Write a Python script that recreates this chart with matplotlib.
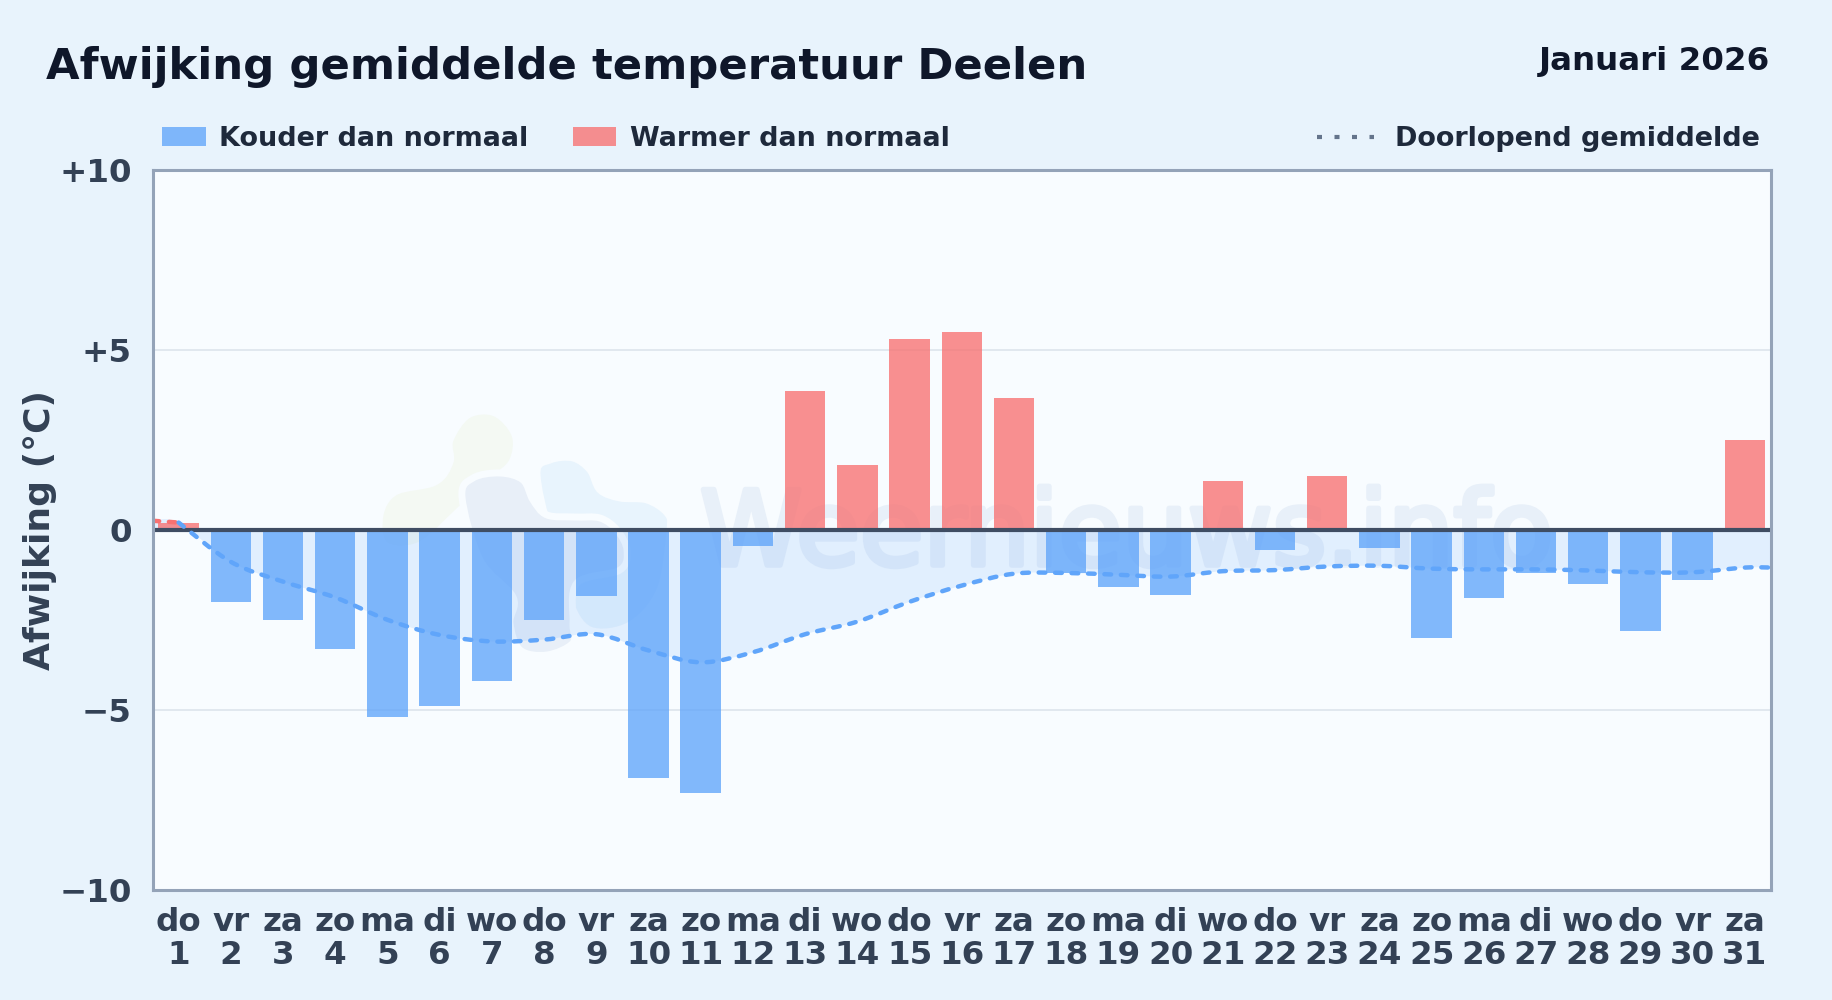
import matplotlib
matplotlib.use("Agg")
import matplotlib.pyplot as plt
import matplotlib.patheffects as pe
from matplotlib.patches import PathPatch, Rectangle
from matplotlib.path import Path
from matplotlib.lines import Line2D
import numpy as np

W, H = 1832, 1000

### data
days = list(range(1, 32))
weekdays = ["do", "vr", "za", "zo", "ma", "di", "wo", "do", "vr", "za", "zo", "ma", "di", "wo", "do", "vr",
            "za", "zo", "ma", "di", "wo", "do", "vr", "za", "zo", "ma", "di", "wo", "do", "vr", "za"]
anomaly = [0.2, -2.0, -2.5, -3.3, -5.2, -4.9, -4.2, -2.5, -1.85, -6.9, -7.3, -0.45, 3.85, 1.8, 5.3, 5.5,
           3.65, -1.2, -1.6, -1.8, 1.35, -0.55, 1.5, -0.5, -3.0, -1.9, -1.2, -1.5, -2.8, -1.4, 2.5]
mean_x = [0.5] + days + [31.5]
mean_y = [0.25, 0.2, -0.89, -1.44, -1.88, -2.5, -2.92, -3.1, -3.05, -2.9, -3.35, -3.68, -3.4, -2.9, -2.55,
          -2.0, -1.55, -1.22, -1.2, -1.25, -1.3, -1.15, -1.12, -1.02, -1.0, -1.08, -1.1, -1.1, -1.13, -1.18,
          -1.18, -1.05, -1.05]
ytick_vals = [-10, -5, 0, 5, 10]
ytick_labels = ["\u221210", "\u22125", "0", "+5", "+10"]

COLD = "#60a5fa"
WARM = "#f87171"
INK = "#0f172a"
SLATE = "#334155"
PLOT_BG = "#f8fcff"


def px(x, y):
    # image pixels to figure fraction
    return x / W, 1 - y / H


def smooth_verts(xs, ys):
    # catmull-rom through the given points, as bezier segments
    pts = np.column_stack([xs, ys])
    verts = [pts[0]]
    codes = [Path.MOVETO]
    for i in range(len(pts) - 1):
        p0 = pts[max(i - 1, 0)]
        p1 = pts[i]
        p2 = pts[i + 1]
        p3 = pts[min(i + 2, len(pts) - 1)]
        verts += [p1 + (p2 - p0) / 6, p2 - (p3 - p1) / 6, p2]
        codes += [Path.CURVE4] * 3
    return verts, codes


def blob(fig, points, color):
    # faint watermark shape, points are image pixels. wrap round and drop the clamped end segments
    n = len(points)
    wrapped = [px(*points[i % n]) for i in range(n + 3)]
    verts, codes = smooth_verts([p[0] for p in wrapped], [p[1] for p in wrapped])
    verts = verts[3:-3]
    codes = [Path.MOVETO] + codes[4:-3]
    return PathPatch(Path(verts, codes), facecolor=color, edgecolor=PLOT_BG, linewidth=5,
                     transform=fig.transFigure, zorder=0.5)


fig = plt.figure(figsize=(W / 100, H / 100), dpi=100, facecolor="#e8f3fc")
left, bottom = px(152.5, 890)
right, top = px(1771, 169.5)
ax = fig.add_axes([left, bottom, right - left, top - bottom], facecolor=PLOT_BG)
ax.set_xlim(0.5, 31.5)
ax.set_ylim(-10, 10)

### watermark
ax.add_patch(blob(fig, [(450, 440), (468, 415), (495, 413), (515, 435), (512, 462), (490, 482), (460, 510),
                        (420, 545), (385, 545), (380, 515), (395, 492), (435, 482), (450, 462)], "#f4f9f3"))
ax.add_patch(blob(fig, [(537, 473), (550, 460), (573, 458), (590, 470), (600, 490), (620, 498), (647, 500),
                        (667, 513), (670, 530), (660, 590), (630, 625), (590, 630), (570, 600), (575, 560),
                        (550, 530)], "#e8f4fd"))
ax.add_patch(blob(fig, [(462, 497), (473, 478), (500, 473), (523, 480), (533, 500), (547, 515), (575, 517),
                        (600, 518), (617, 530), (627, 550), (620, 570), (577, 583), (573, 623), (573, 643),
                        (547, 655), (520, 650), (510, 623), (513, 597), (480, 560)], "#e8eff8"))
wm = ax.text(*px(700, 565), "Weernieuws.info", transform=fig.transFigure, fontsize=74.5, color="#e8f0f9",
             ha="left", va="baseline", zorder=0.6, clip_on=True)
wm.set_path_effects([pe.withStroke(linewidth=4, foreground="#e8f0f9")])
ax.patch.set_zorder(0)
ax.set_axisbelow(True)

### grid, area, bars
ax.grid(axis="y", color="#dfe6ee", linewidth=1.3)
ax.tick_params(length=0)

verts, codes = smooth_verts(mean_x, mean_y)
area = Path(verts + [(31.5, 0), (0.5, 0), (0.5, 0)], codes + [Path.LINETO, Path.LINETO, Path.CLOSEPOLY])
ax.add_patch(PathPatch(area, facecolor=COLD, edgecolor="none", alpha=0.15, zorder=2))

colors = [COLD if v < 0 else WARM for v in anomaly]
ax.bar(days, anomaly, width=0.775, color=colors, alpha=0.78, linewidth=0, zorder=3)
ax.axhline(0, color="#3f4d63", linewidth=3, zorder=4)

### running mean, first stretch above zero is red
dash = (0, (1.5, 2.2))
v, c = smooth_verts(mean_x[:2], mean_y[:2])
ax.add_patch(PathPatch(Path(v, c), fill=False, edgecolor=WARM, linewidth=3.2, linestyle=dash,
                       capstyle="round", zorder=5))
v, c = smooth_verts(mean_x[1:], mean_y[1:])
ax.add_patch(PathPatch(Path(v, c), fill=False, edgecolor=COLD, linewidth=3.2, linestyle=dash,
                       capstyle="round", zorder=5))

### axes text
ax.set_yticks(ytick_vals)
ax.set_yticklabels(ytick_labels, fontsize=23.4, fontweight="bold", color=SLATE)
ax.set_xticks(days)
ax.set_xticklabels([f"{d}\n{n}" for d, n in zip(weekdays, days)], fontsize=23.4, fontweight="bold", color=SLATE,
                   linespacing=1.1)
ax.tick_params(axis="y", pad=15)
ax.tick_params(axis="x", pad=12)
for s in ax.spines.values():
    s.set_color("#94a3b8")
    s.set_linewidth(2.2)
    s.set_zorder(6)

fig.text(*px(40, 530), "Afwijking (\u00b0C)", rotation=90, fontsize=26, fontweight="bold", color=SLATE,
         ha="center", va="center")

### header
fig.text(*px(46, 78.5), "Afwijking gemiddelde temperatuur Deelen", fontsize=31.2, fontweight="bold", color=INK,
         ha="left", va="baseline")
fig.text(*px(1770, 70), "Januari 2026", fontsize=23.4, fontweight="bold", color=INK, ha="right", va="baseline")

### legend
legend_ink = "#1e293b"
for x0, x1, col, label, tx in [(162, 206, COLD, "Kouder dan normaal", 219), (573, 616, WARM, "Warmer dan normaal", 630)]:
    a, b = px(x0, 146)
    c2, d = px(x1, 127)
    fig.add_artist(Rectangle((a, b), c2 - a, d - b, transform=fig.transFigure, facecolor=col, alpha=0.78, linewidth=0))
    fig.text(*px(tx, 146), label, fontsize=19.45, fontweight="bold", color=legend_ink, ha="left", va="baseline")
a, b = px(1317, 137)
c2, d = px(1374, 137)
fig.add_artist(Line2D([a, c2], [b, d], transform=fig.transFigure, color="#64748b", linewidth=3,
                      linestyle=(0, (1.2, 3.0))))
fig.text(*px(1760, 146), "Doorlopend gemiddelde", fontsize=19.45, fontweight="bold", color=legend_ink,
         ha="right", va="baseline")

fig.savefig("out.png", dpi=100, facecolor=fig.get_facecolor())
